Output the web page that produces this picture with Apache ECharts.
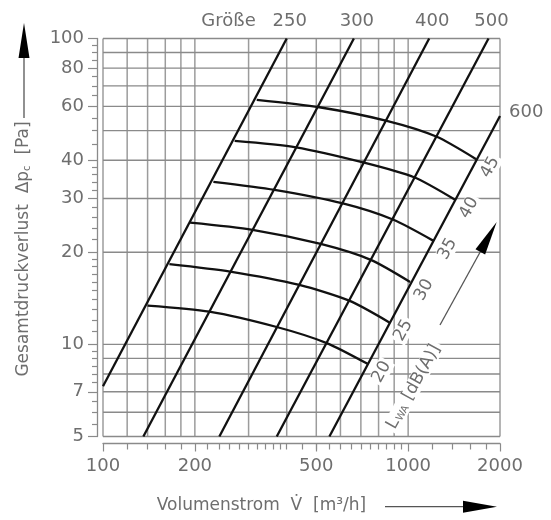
<!DOCTYPE html>
<html><head><meta charset="utf-8">
<script src="https://cdn.jsdelivr.net/npm/echarts@6/dist/echarts.min.js"></script>
<style>html,body{margin:0;padding:0;background:#fff}#c{width:551px;height:520px}</style>
</head><body><div id="c"></div>
<script>
// ---- axis ticks / labels ----
const xMin = 100, xMax = 2000, yMin = 5, yMax = 100;
const xTickMajor = [100, 200, 500, 1000, 2000];
const xTickMinor = [120,140,160,180,220,240,260,280,300,320,340,360,380,400,450,500,550,600,650,700,750,800,850,900,950,1200,1400,1600,1800];
const yTickMajor = [5, 7, 10, 20, 30, 40, 60, 80, 100];
const yTickMinor = [5.5,6,6.5,7.5,8,8.5,9,9.5,11,12,13,14,15,16,17,18,19,22,24,26,28,32,34,36,38,45,50,55,65,70,75,85,90,95];
const gridX = [100,120,140,160,180,200,300,400,500,600,700,800,900,1000,2000];
const gridY = [5,6,7,8,9,10,20,30,40,50,60,70,80,90,100];

// ---- size lines (Größe) ----
const sizeNames = ['250', '300', '400', '500', '600'];
const size250 = [[100, 7.3], [400, 100]];
const size300 = [[135.6, 5], [664, 100]];
const size400 = [[240.6, 5], [1172, 100]];
const size500 = [[371, 5], [1834, 100]];
const size600 = [[552, 5], [2000, 55.8]];

// ---- sound power curves L_WA ----
const lwaNames = ['20', '25', '30', '35', '40', '45'];
const lwa20 = [[140, 13.4], [223, 12.8], [371, 11.4], [541, 10.1], [736, 8.64]];
const lwa25 = [[165, 18.3], [261, 17.3], [440, 15.65], [641, 13.9], [868, 11.8]];
const lwa30 = [[193, 25.0], [309, 23.7], [517, 21.3], [754, 18.9], [1015, 16.0]];
const lwa35 = [[230, 34.0], [365, 32.0], [611, 28.9], [891, 25.6], [1211, 21.8]];
const lwa40 = [[270, 46.3], [429, 44.1], [717, 39.3], [1046, 35.2], [1426, 29.7]];
const lwa45 = [[319, 63.0], [512, 59.6], [851, 53.8], [1236, 47.8], [1671, 40.3]];

const sizeData = [size250, size300, size400, size500, size600];
const lwaData = [lwa20, lwa25, lwa30, lwa35, lwa40, lwa45];

const TXT = '#6e6e6e', AX = '#8a8a8a', FONT = 'DejaVu Sans';
const chart = echarts.init(document.getElementById('c'));

const series = [];
gridX.forEach(v => series.push({type:'line', data:[[v, yMin],[v, yMax]], symbol:'none', silent:true, clip:false, z:1,
  lineStyle:{color:'#9c9c9c', width:1.5}}));
gridY.forEach(v => series.push({type:'line', data:[[xMin, v],[xMax, v]], symbol:'none', silent:true, clip:false, z:1,
  lineStyle:{color:'#8a8a8a', width:1.4}}));
const firstDataSeries = series.length;
sizeData.forEach((d, i) => series.push({name:'Größe ' + sizeNames[i], type:'line', data:d, symbol:'none', z:3, clip:false,
  lineStyle:{color:'#111', width:2.3}}));
lwaData.forEach((d, i) => series.push({name:'LWA ' + lwaNames[i], type:'line', data:d, symbol:'none', z:3, smooth:0.25, clip:false,
  lineStyle:{color:'#111', width:2.3}}));

const fmt = v => String(Math.round(v));
const axBase = {type:'log', logBase:10, splitLine:{show:false}, minorTick:{show:false}};
chart.setOption({
  animation:false,
  backgroundColor:'#fff',
  grid:{left:103, top:38.5, width:397, height:398, containLabel:false},
  xAxis:[
    Object.assign({}, axBase, {min:xMin, max:xMax, position:'bottom', offset:7,
      axisLine:{show:true, lineStyle:{color:AX, width:1.3}},
      axisTick:{show:true, customValues:xTickMinor, length:6, lineStyle:{color:AX, width:1.2}},
      axisLabel:{show:false}}),
    Object.assign({}, axBase, {min:xMin, max:xMax, position:'bottom', offset:7,
      axisLine:{show:false},
      axisTick:{show:true, customValues:xTickMajor, length:8, lineStyle:{color:AX, width:1.2}},
      axisLabel:{show:true, customValues:xTickMajor, formatter:fmt, margin:14, fontSize:18, color:TXT, fontFamily:FONT}})
  ],
  yAxis:[
    Object.assign({}, axBase, {min:yMin, max:yMax, position:'left', offset:6,
      axisLine:{show:true, lineStyle:{color:AX, width:1.3}},
      axisTick:{show:true, customValues:yTickMinor, length:5, lineStyle:{color:AX, width:1.2}},
      axisLabel:{show:false}}),
    Object.assign({}, axBase, {min:yMin, max:yMax, position:'left', offset:6,
      axisLine:{show:false},
      axisTick:{show:true, customValues:yTickMajor, length:9, lineStyle:{color:AX, width:1.2}},
      axisLabel:{show:true, customValues:yTickMajor, formatter:fmt, margin:13, fontSize:18, color:TXT, fontFamily:FONT}})
  ],
  series: series
});

const P = pt => chart.convertToPixel({seriesIndex:firstDataSeries}, pt);
const g = [];
function txt(x, y, text, opts) {
  g.push(Object.assign({type:'text', x:x, y:y, z:2, silent:true,
    style:Object.assign({text:text, fill:TXT, fontSize:18, fontFamily:FONT, align:'center', verticalAlign:'middle'}, opts && opts.style || {})},
    opts && opts.el || {}));
}
function arrow(x0, y0, x1, y1, head, halfW) {
  const dx = x1 - x0, dy = y1 - y0, L = Math.hypot(dx, dy), ux = dx / L, uy = dy / L;
  const bx = x1 - ux * head, by = y1 - uy * head;
  g.push({type:'line', z:2, silent:true, shape:{x1:x0, y1:y0, x2:bx, y2:by}, style:{stroke:'#555', lineWidth:1.3}});
  g.push({type:'polygon', z:2, silent:true, shape:{points:[[x1, y1], [bx - uy * halfW, by + ux * halfW], [bx + uy * halfW, by - ux * halfW]]},
    style:{fill:'#000'}});
}

// size labels
sizeData.forEach((d, i) => {
  const p = P(d[d.length - 1]);
  if (i < 4) txt(p[0] + 3, p[1] - 17, sizeNames[i]);
  else txt(p[0] + 9, p[1] - 4, sizeNames[i], {style:{align:'left'}});
});
const p250 = P(size250[1]);
txt(p250[0] - 31, p250[1] - 17, 'Größe', {style:{align:'right'}});

// LWA labels
const rot = 61 * Math.PI / 180;
lwaData.forEach((d, i) => {
  const p = P(d[d.length - 1]);
  txt(p[0] + 14, p[1] + 8, lwaNames[i], {el:{rotation:rot}, style:{fontSize:17, backgroundColor:'#fff', padding:[0, 2]}});
});
const p20 = P(lwa20[lwa20.length - 1]);
txt(p20[0] + 46, p20[1] + 23, '{a|L}{b|WA} {a|[dB(A)]}', {el:{rotation:rot},
  style:{fontSize:17, backgroundColor:'#fff', padding:[0, 3],
    rich:{a:{fontSize:17, fontFamily:FONT, fill:TXT}, b:{fontSize:10, fontFamily:FONT, fill:TXT, verticalAlign:'bottom', padding:[0, 1, 0, 1]}}}});
arrow(440, 325, 496.7, 222, 34, 5.5);

// axis titles
txt(23.5, 249, 'Gesamtdruckverlust  Δp{s|c}  [Pa]', {el:{rotation:Math.PI / 2},
  style:{fontSize:17, rich:{s:{fontSize:10, fontFamily:FONT, fill:TXT, verticalAlign:'bottom'}}}});
arrow(24, 118, 24, 23, 35, 5.5);
txt(156.7, 506, 'Volumenstrom  V\u0307  [m³/h]', {style:{fontSize:17, align:'left'}});
arrow(385, 506.7, 497, 506.7, 34, 6);

chart.setOption({graphic:{elements:g}});
</script></body></html>
